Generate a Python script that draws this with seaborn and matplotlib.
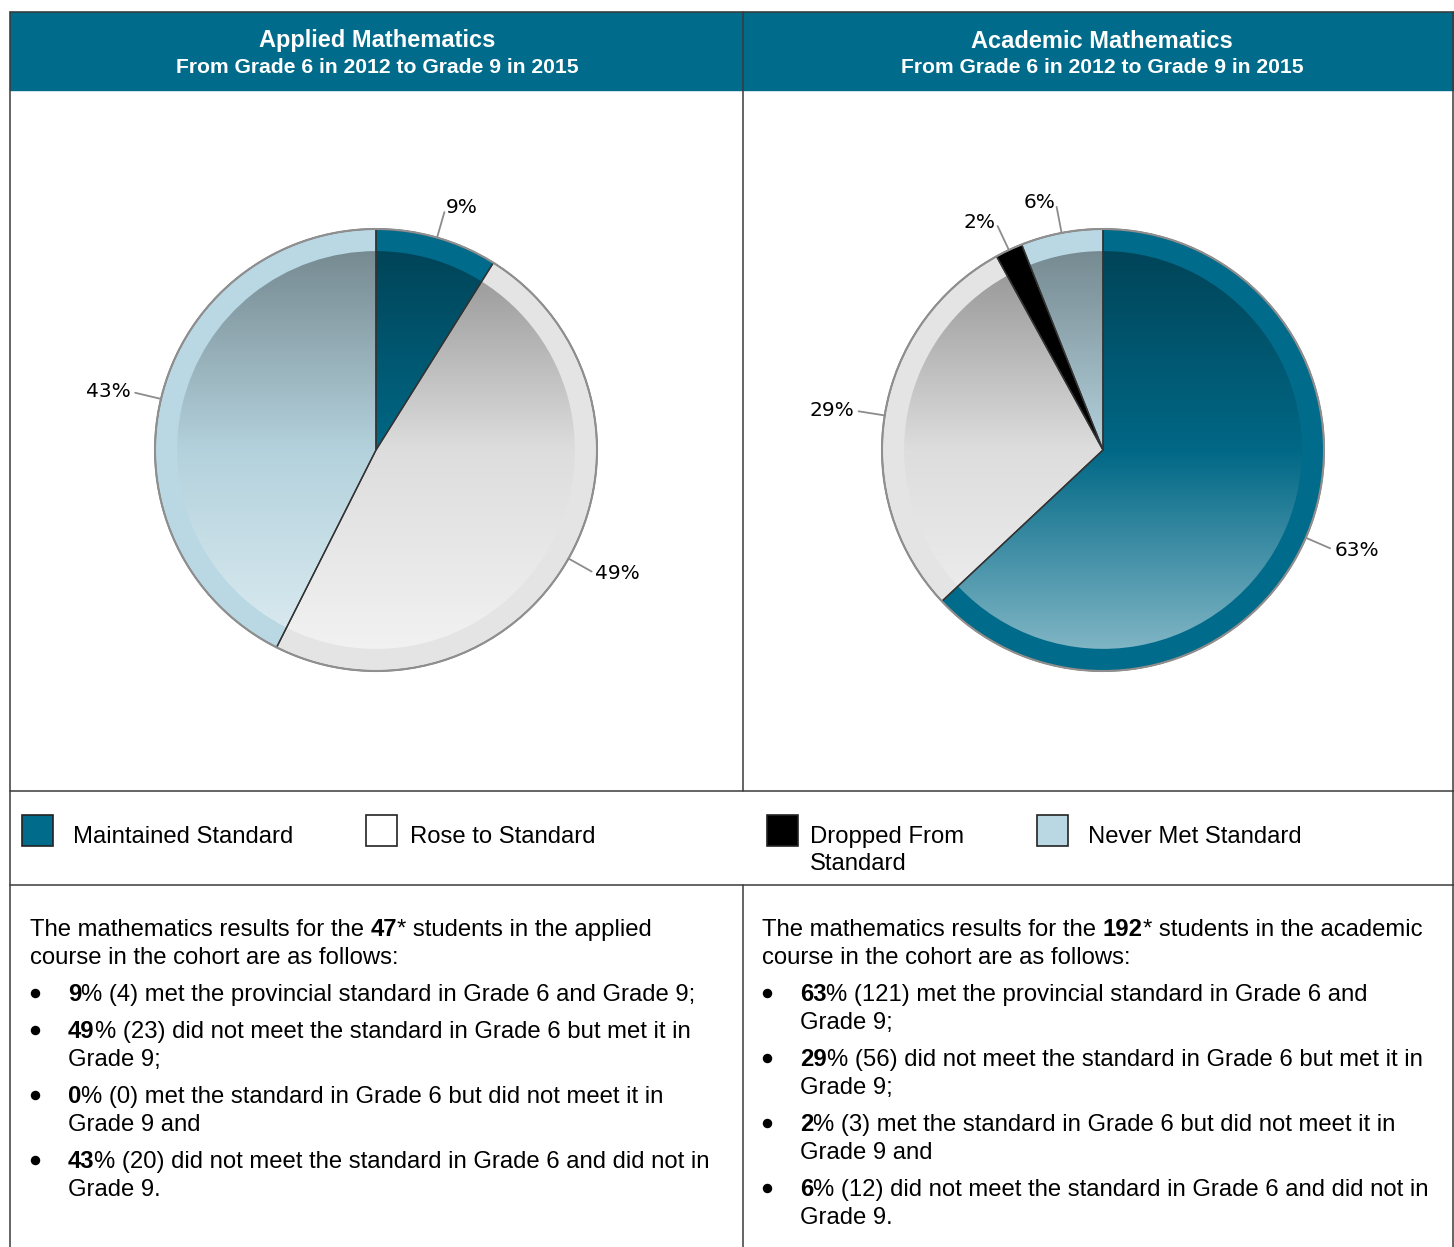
import numpy as np
import seaborn as sns
import matplotlib.pyplot as plt
from matplotlib.patches import Rectangle, Circle

# data
categories = ["Maintained Standard", "Rose to Standard", "Dropped From\nStandard", "Never Met Standard"]
panel_titles = ["Applied Mathematics", "Academic Mathematics"]
panel_subtitle = "From Grade 6 in 2012 to Grade 9 in 2015"
applied_pct = [9, 49, 0, 43]
applied_n = [4, 23, 0, 20]
academic_pct = [63, 29, 2, 6]
academic_n = [121, 56, 3, 12]
cohort_sizes = [47, 192]
course_names = ["applied", "academic"]

applied_phrases = [
    ["met the provincial standard in Grade 6 and Grade 9;"],
    ["did not meet the standard in Grade 6 but met it in", "Grade 9;"],
    ["met the standard in Grade 6 but did not meet it in", "Grade 9 and"],
    ["did not meet the standard in Grade 6 and did not in", "Grade 9."],
]
academic_phrases = [
    ["met the provincial standard in Grade 6 and", "Grade 9;"],
    ["did not meet the standard in Grade 6 but met it in", "Grade 9;"],
    ["met the standard in Grade 6 but did not meet it in", "Grade 9 and"],
    ["did not meet the standard in Grade 6 and did not in", "Grade 9."],
]

ring_colors = ["#006b8a", "#e4e4e4", "#000000", "#b9d8e3"]
legend_colors = ["#006b8a", "#ffffff", "#000000", "#b9d8e3"]

sns.set_theme(style="white")
plt.rcParams['font.family'] = ['Liberation Sans', 'DejaVu Sans']
plt.rcParams['text.color'] = 'black'

W, H = 1454, 1247
FS = 17.2
fig = plt.figure(figsize=(W / 100, H / 100), dpi=100)
bg = fig.add_axes([0, 0, 1, 1])
bg.set_xlim(0, W)
bg.set_ylim(H, 0)
bg.axis('off')

line_c = "#3a3a3a"
lw = 1.1

# header band and grid lines
bg.add_patch(Rectangle((10, 12), W - 10, 78, color="#006b8a", zorder=1))
bg.plot([10, W], [12, 12], color=line_c, lw=lw, zorder=2)
bg.plot([10, 10], [12, H], color=line_c, lw=lw, zorder=2)
bg.plot([W - 1, W - 1], [12, H], color=line_c, lw=lw, zorder=2)
bg.plot([743, 743], [12, 791], color=line_c, lw=lw, zorder=2)
bg.plot([743, 743], [885, H], color=line_c, lw=lw, zorder=2)
bg.plot([10, W], [791, 791], color=line_c, lw=lw, zorder=2)
bg.plot([10, W], [885, 885], color=line_c, lw=lw, zorder=2)

for cx, title in zip([377, 1102], panel_titles):
    bg.text(cx, 41, title, color="white", fontsize=17, fontweight="bold", ha="center", va="center")
    bg.text(cx, 67.5, panel_subtitle, color="white", fontsize=15.2, fontweight="bold", ha="center", va="center")

# legend
for sx, tx, col, lab in zip([22, 366, 767, 1037], [73, 410, 810, 1088], legend_colors, categories):
    bg.add_patch(Rectangle((sx, 815), 31, 31, facecolor=col, edgecolor="#222222", lw=1.2, zorder=3))
    for k, part in enumerate(lab.split("\n")):
        bg.text(tx, 843 + 27 * k, part, fontsize=FS, ha="left", va="baseline")


def rich(x, y, parts, size=FS):
    t = bg.text(x, y, parts[0][0], fontsize=size, fontweight=parts[0][1], ha="left", va="baseline")
    for s, w in parts[1:]:
        t = bg.annotate(s, xy=(1, 0), xycoords=t, fontsize=size, fontweight=w, ha="left", va="bottom")
    return t


# description text
for x0, n, course, pcts, counts, phrases in [
        (30, cohort_sizes[0], course_names[0], applied_pct, applied_n, applied_phrases),
        (762, cohort_sizes[1], course_names[1], academic_pct, academic_n, academic_phrases)]:
    y = 936
    rich(x0, y, [("The mathematics results for the ", "normal"), (f"{n}", "bold"),
                 (f"* students in the {course}", "normal")])
    y += 28
    bg.text(x0, y, "course in the cohort are as follows:", fontsize=FS, va="baseline")
    y += 37
    for p, c, lines in zip(pcts, counts, phrases):
        bg.plot(x0 + 5, y - 8, "o", ms=5.8, color="black")
        rich(x0 + 38, y, [(f"{p}", "bold"), (f"% ({c}) {lines[0]}", "normal")])
        for extra in lines[1:]:
            y += 28
            bg.text(x0 + 38, y, extra, fontsize=FS, va="baseline")
        y += 37


def shade(base, t):
    base = np.array(base)
    top = base * 0.64
    mid = base * 0.97
    bot = base + (1 - base) * 0.5
    return np.where(t[:, None] < 0,
                    top + (mid - top) * (t[:, None] + 1),
                    mid + (bot - mid) * t[:, None])


def draw_pie(cx, cy, pcts):
    h = 300
    ax = fig.add_axes([(cx - h) / W, (H - cy - h) / H, 2 * h / W, 2 * h / H])
    R = 221
    r = 0.9 * R
    keep = [i for i, v in enumerate(pcts) if v > 0]
    vals = [pcts[i] for i in keep]
    cols = [ring_colors[i] for i in keep]
    outer, _ = ax.pie(vals, colors=cols, radius=R, startangle=90, counterclock=False,
                      wedgeprops=dict(linewidth=0, zorder=1))
    inner, _ = ax.pie(vals, radius=r, startangle=90, counterclock=False,
                      wedgeprops=dict(linewidth=0, facecolor="none", zorder=1))
    t = np.linspace(-1, 1, 400)
    for w, col in zip(inner, cols):
        rgb = np.array(plt.matplotlib.colors.to_rgb(col))
        img = shade(rgb, t).reshape(-1, 1, 3)
        im = ax.imshow(img, extent=(-r, r, -r, r), aspect="auto", interpolation="bilinear", zorder=2)
        im.set_clip_path(w)
    ax.pie(vals, radius=R, startangle=90, counterclock=False,
           wedgeprops=dict(fill=False, edgecolor="#333333", linewidth=1, zorder=3))
    ax.add_patch(Circle((0, 0), R, fill=False, edgecolor="#8f8f8f", lw=1.5, zorder=4))
    for w, v in zip(outer, vals):
        a = np.deg2rad((w.theta1 + w.theta2) / 2)
        c, s = np.cos(a), np.sin(a)
        ax.plot([R * c, 1.12 * R * c], [R * s, 1.12 * R * s], color="#8c8c8c", lw=1.3, zorder=4)
        ax.text(1.14 * R * c, 1.14 * R * s, f"{v}%", family="DejaVu Sans", fontsize=14.5,
                ha="left" if c > 0 else "right", va="center", color="black")
    ax.set_aspect("equal")
    ax.set_xlim(-h, h)
    ax.set_ylim(-h, h)
    ax.axis("off")


draw_pie(376, 450, applied_pct)
draw_pie(1103, 450, academic_pct)

fig.savefig("out.png", dpi=100)
